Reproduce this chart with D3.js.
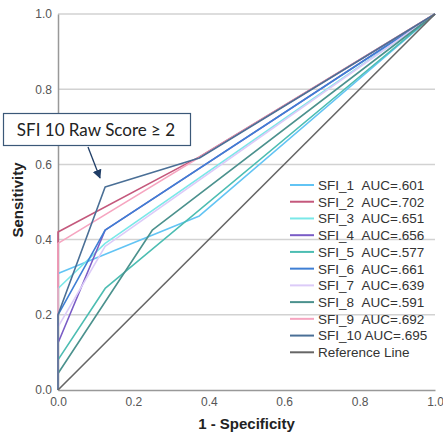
<!DOCTYPE html>
<html>
<head>
<meta charset="utf-8">
<script src="https://cdn.jsdelivr.net/npm/d3@7"></script>
<style>
  html, body { margin: 0; padding: 0; background: #fff; }
  svg { display: block; }
</style>
</head>
<body>
<svg id="chart" width="443" height="443"></svg>
<script>
// ROC curves for the ten SFI items
const seriesNames = ["SFI_1", "SFI_2", "SFI_3", "SFI_4", "SFI_5", "SFI_6", "SFI_7", "SFI_8", "SFI_9", "SFI_10"];
const aucLabels = [".601", ".702", ".651", ".656", ".577", ".661", ".639", ".591", ".692", ".695"];
// 1 - specificity for each curve's vertices
const curveFpr = [
  [0, 0, 0.375, 1],
  [0, 0, 0.375, 1],
  [0, 0, 0.125, 1],
  [0, 0, 0.125, 1],
  [0, 0, 0.125, 1],
  [0, 0, 0.125, 1],
  [0, 0, 0.125, 1],
  [0, 0, 0.25, 1],
  [0, 0, 1],
  [0, 0, 0.125, 0.375, 1]
];
// sensitivity for each curve's vertices
const curveTpr = [
  [0, 0.31, 0.463, 1],
  [0, 0.42, 0.62, 1],
  [0, 0.27, 0.39, 1],
  [0, 0.125, 0.425, 1],
  [0, 0.08, 0.27, 1],
  [0, 0.2, 0.425, 1],
  [0, 0.168, 0.382, 1],
  [0, 0.044, 0.425, 1],
  [0, 0.39, 1],
  [0, 0.2, 0.54, 0.617, 1]
];
const referenceFpr = [0, 1];
const referenceTpr = [0, 1];
const tickValues = [0, 0.2, 0.4, 0.6, 0.8, 1.0];
const colors = ["#62c4f4", "#c4587c", "#7ae8e8", "#7a5cc6", "#4cbdb2", "#3f7fd4", "#dccbf8", "#4b918d", "#f6a5c0", "#4a6f96"];
const referenceColor = "#666666";
const annotationText = "SFI 10 Raw Score \u2265 2";

const svg = d3.select("#chart");
svg.append("rect").attr("width", 443).attr("height", 443).attr("fill", "#fff");

const x = d3.scaleLinear().domain([0, 1]).range([58, 435]);
const y = d3.scaleLinear().domain([0, 1]).range([390, 14]);

// horizontal grid
svg.append("g")
  .selectAll("line")
  .data(tickValues.filter(d => d > 0))
  .join("line")
  .attr("x1", x(0)).attr("x2", x(1))
  .attr("y1", d => y(d)).attr("y2", d => y(d))
  .attr("stroke", "#d2d2d2")
  .attr("stroke-width", 1.5);

// axes
const yAxis = svg.append("g")
  .attr("transform", `translate(${x(0)},0)`)
  .call(d3.axisLeft(y).tickValues(tickValues).tickFormat(d3.format(".1f")).tickSize(0).tickPadding(6));
const xAxis = svg.append("g")
  .attr("transform", `translate(0,${y(0)})`)
  .call(d3.axisBottom(x).tickValues(tickValues).tickFormat(d3.format(".1f")).tickSize(0).tickPadding(7));
[yAxis, xAxis].forEach(g => {
  g.select(".domain").attr("stroke", "#999").attr("stroke-width", 1.5);
  g.selectAll("text")
    .attr("fill", "#555")
    .style("font-family", "'Liberation Sans', Arial, sans-serif")
    .style("font-size", "12px");
});

// axis titles
svg.append("text")
  .attr("transform", "translate(23,200) rotate(-90)")
  .attr("text-anchor", "middle")
  .style("font-family", "'Liberation Sans', Arial, sans-serif")
  .style("font-size", "15px")
  .style("font-weight", "bold")
  .attr("fill", "#222")
  .text("Sensitivity");
svg.append("text")
  .attr("x", (x(0) + x(1)) / 2)
  .attr("y", 429)
  .attr("text-anchor", "middle")
  .style("font-family", "'Liberation Sans', Arial, sans-serif")
  .style("font-size", "15px")
  .style("font-weight", "bold")
  .attr("fill", "#222")
  .text("1 - Specificity");

// curves
const line = d3.line().x(d => x(d[0])).y(d => y(d[1]));
const curves = seriesNames.map((name, i) => ({
  name,
  color: colors[i],
  points: curveFpr[i].map((f, j) => [f, curveTpr[i][j]])
}));
svg.append("g")
  .selectAll("path")
  .data(curves)
  .join("path")
  .attr("d", d => line(d.points))
  .attr("fill", "none")
  .attr("stroke", d => d.color)
  .attr("stroke-width", 1.6)
  .attr("stroke-linejoin", "round");

svg.append("path")
  .attr("d", line(referenceFpr.map((f, j) => [f, referenceTpr[j]])))
  .attr("fill", "none")
  .attr("stroke", referenceColor)
  .attr("stroke-width", 1.6);

// legend
const legendItems = curves.map((c, i) => ({
  color: c.color,
  label: c.name + (c.name.length < 6 ? "\u00a0\u00a0" : " ") + "AUC=" + aucLabels[i]
})).concat([{ color: referenceColor, label: "Reference Line" }]);
const legend = svg.append("g");
const rowY = i => 185 + i * 16.73;
legend.selectAll("line")
  .data(legendItems)
  .join("line")
  .attr("x1", 290).attr("x2", 314)
  .attr("y1", (d, i) => rowY(i)).attr("y2", (d, i) => rowY(i))
  .attr("stroke", d => d.color)
  .attr("stroke-width", 2);
legend.selectAll("text")
  .data(legendItems)
  .join("text")
  .attr("x", 318)
  .attr("y", (d, i) => rowY(i))
  .attr("dy", "0.36em")
  .style("font-family", "'Liberation Sans', Arial, sans-serif")
  .style("font-size", "13.5px")
  .attr("fill", "#333")
  .text(d => d.label);

// callout for the SFI_10 cut point
const defs = svg.append("defs");
defs.append("marker")
  .attr("id", "arrowhead")
  .attr("viewBox", "0 0 10 10")
  .attr("refX", 9).attr("refY", 5)
  .attr("markerWidth", 7).attr("markerHeight", 7)
  .attr("orient", "auto")
  .append("path")
  .attr("d", "M0,0 L10,5 L0,10 z")
  .attr("fill", "#1f3d66");
svg.append("line")
  .attr("x1", 88).attr("y1", 147)
  .attr("x2", 100).attr("y2", 178)
  .attr("stroke", "#1f3d66")
  .attr("stroke-width", 1.3)
  .attr("marker-end", "url(#arrowhead)");
svg.append("rect")
  .attr("x", 3.5).attr("y", 113.5)
  .attr("width", 187).attr("height", 32)
  .attr("fill", "#fff")
  .attr("stroke", "#3b5878")
  .attr("stroke-width", 1.2);
svg.append("text")
  .attr("x", 96).attr("y", 130)
  .attr("dy", "0.36em")
  .attr("text-anchor", "middle")
  .style("font-family", "Lato, 'Open Sans', sans-serif")
  .style("font-size", "17px")
  .attr("fill", "#222")
  .text(annotationText);
</script>
</body>
</html>
